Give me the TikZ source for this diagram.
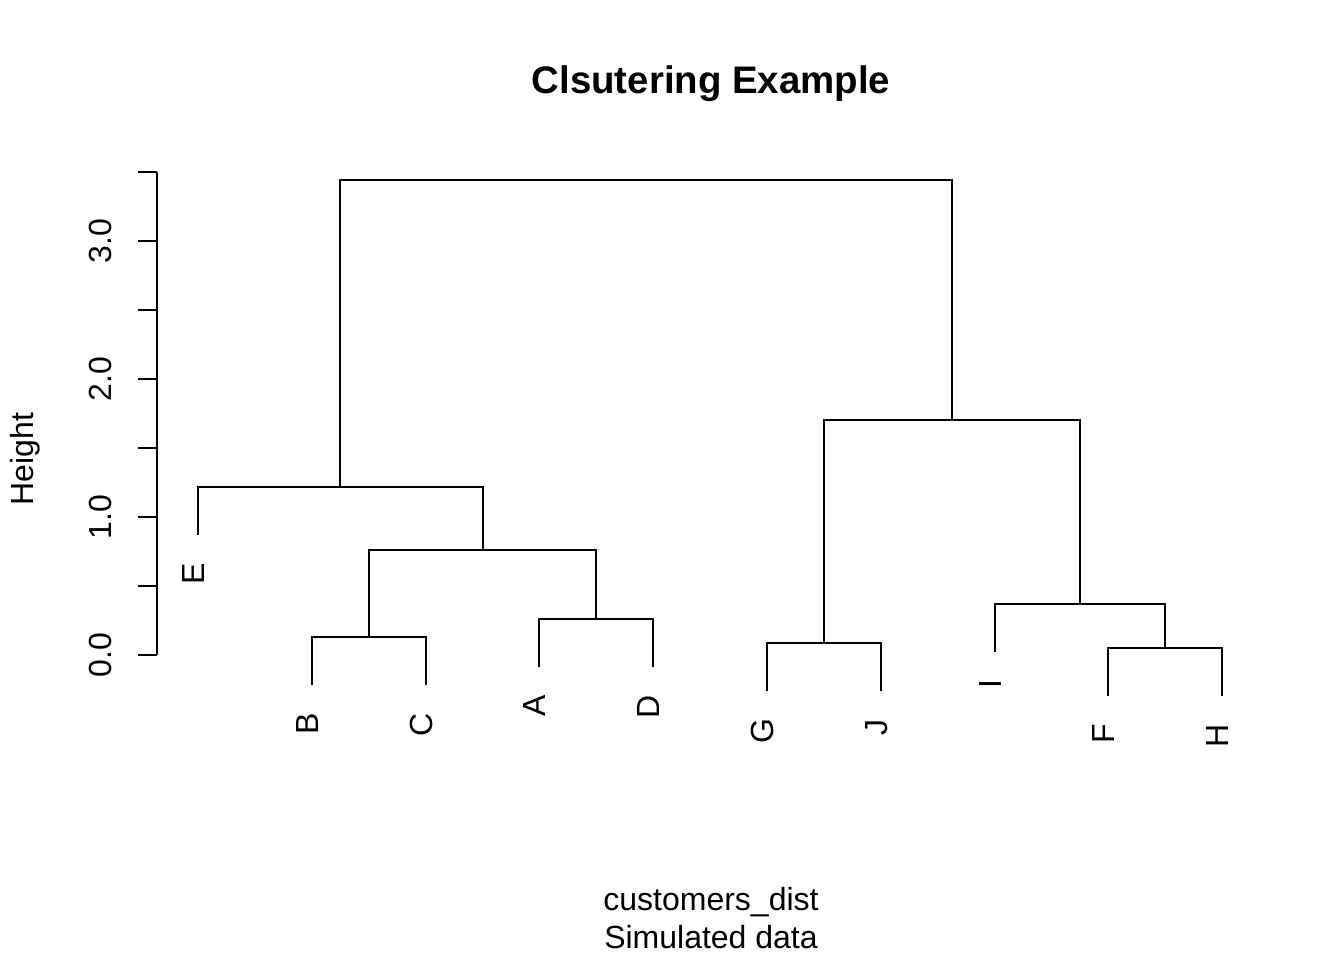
\documentclass[tikz,border=0pt]{standalone}
\usepackage{fontspec}
\setmainfont{Liberation Sans}
\usepackage{tikz}

\begin{document}
\begin{tikzpicture}[x=0.375pt, y=-0.375pt, line width=0.75pt,
  font=\fontsize{12}{14}\selectfont,
  leaf/.style={rotate=90, anchor=base east, inner sep=0pt},
  ticklab/.style={rotate=90, anchor=base, inner sep=0pt},
  lab/.style={anchor=base, inner sep=0pt}]
\useasboundingbox (0,0) rectangle (1344,960);
% titles
\node[lab, font=\fontsize{14.4}{17}\selectfont\bfseries] (title) at (711,93) {Clsutering Example};
\node[lab] (xlab) at (711,910) {customers\_dist};
\node[lab] (sub) at (711,948) {Simulated data};
\node[ticklab] (ylab) at (33,459) {Height};
% axis
\coordinate (a0) at (157,655);
\coordinate (a35) at (157,172);
\draw (a0) -- (a35);
\draw (157,655) -- (138,655);
\draw (157,586) -- (138,586);
\draw (157,517) -- (138,517);
\draw (157,448) -- (138,448);
\draw (157,379) -- (138,379);
\draw (157,310) -- (138,310);
\draw (157,241) -- (138,241);
\draw (157,172) -- (138,172);
\node[ticklab] (t0) at (111,655) {0.0};
\node[ticklab] (t1) at (111,517) {1.0};
\node[ticklab] (t2) at (111,379) {2.0};
\node[ticklab] (t3) at (111,241) {3.0};
% leaves
\coordinate (E) at (198,535);
\coordinate (B) at (312,685);
\coordinate (C) at (426,685);
\coordinate (A) at (539,667);
\coordinate (D) at (653,667);
\coordinate (G) at (767,691);
\coordinate (J) at (881,691);
\coordinate (I) at (995,652);
\coordinate (F) at (1108,696);
\coordinate (H) at (1222,696);
% merges
\coordinate (bc) at (369,637);
\coordinate (ad) at (596,619);
\coordinate (bcad) at (482.5,550);
\coordinate (ebcad) at (340,487);
\coordinate (gj) at (824,643);
\coordinate (fh) at (1165,648);
\coordinate (ifh) at (1080,604);
\coordinate (gjifh) at (952,420);
\coordinate (root) at (646,180);
\draw (B) |- (bc) -| (C);
\draw (A) |- (ad) -| (D);
\draw (bc) |- (bcad) -| (ad);
\draw (E) |- (ebcad) -| (bcad);
\draw (G) |- (gj) -| (J);
\draw (F) |- (fh) -| (H);
\draw (I) |- (ifh) -| (fh);
\draw (gj) |- (gjifh) -| (ifh);
\draw (ebcad) |- (root) -| (gjifh);
% leaf labels
\node[leaf] (Elab) at (204,562) {E};
\node[leaf] (Blab) at (318,712) {B};
\node[leaf] (Clab) at (432,712) {C};
\node[leaf] (Alab) at (545,694) {A};
\node[leaf] (Dlab) at (659,694) {D};
\node[leaf] (Glab) at (773,718) {G};
\node[leaf] (Jlab) at (887,718) {J};
\node[leaf] (Ilab) at (1001,679) {I};
\node[leaf] (Flab) at (1114,723) {F};
\node[leaf] (Hlab) at (1228,723) {H};
\end{tikzpicture}
\end{document}
